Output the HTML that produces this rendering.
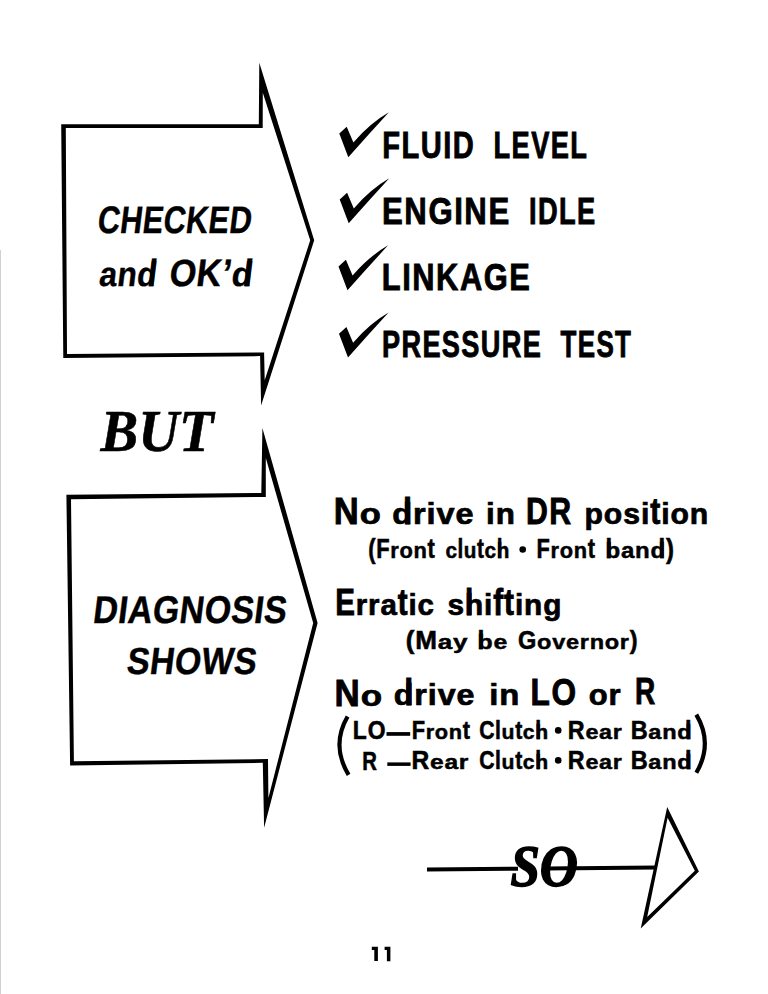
<!DOCTYPE html>
<html><head><meta charset="utf-8"><style>
html,body{margin:0;padding:0;background:#fff;width:768px;height:994px;overflow:hidden}
.t{position:absolute;left:0;top:0;line-height:1;white-space:pre;color:#000;transform-origin:0 0}
svg{position:absolute;left:0;top:0}
</style></head><body>
<svg width="768" height="994" viewBox="0 0 768 994">
<path fill="#000" fill-rule="evenodd" d="M61.2 124.2 L258.8 124.2 L259.3 62.8 L314.2 240.3 L261.1 405.5 L260.1 356.1 L63.3 357.9 Z M65.8 128.1 L262.7 128 L262.8 92.7 L310.2 240.3 L264.7 380.3 L264.1 352.5 L67 354 Z"/>
<path fill="#000" fill-rule="evenodd" d="M66.4 494.8 L261.3 492.9 L262.4 428 L317.6 623 L264.1 827.8 L262.8 762.8 L70.1 765.5 Z M71 499.2 L265.8 496.9 L265.8 458 L313.2 623 L268.4 797.9 L268 759 L73.9 761.3 Z"/>
<path fill="#000" fill-rule="evenodd" d="M667.2 807.1 L698.9 871.4 L640.7 928.4 Z M667.6 817.7 L694.8 870.7 L647.2 916.9 Z"/>
<path fill="#000" d="M427 867.50 L518 866.74 L518 870.74 L427 871.50 Z M548 866.50 L568 866.33 L568 870.33 L548 870.50 Z M575 866.27 L656 865.60 L656 869.60 L575 870.27 Z"/>
<g fill="none" stroke="#000" stroke-width="4.2" stroke-linecap="butt">
<path d="M347.6 716.5 Q330.8 745.5 348.6 774.8"/>
<path d="M696.3 714.6 Q713.4 743.5 696.3 772.8"/>
</g>
<rect x="0" y="250" width="1" height="744" fill="#d2d2d2"/>
<g fill="#000">
<circle cx="522.7" cy="549.5" r="3.3"/>
<circle cx="558.2" cy="730.4" r="3.3"/>
<circle cx="558.2" cy="760.4" r="3.3"/>
<rect x="386.5" y="732.1" width="23.7" height="3.7"/>
<rect x="387.3" y="762.4" width="23.3" height="3.5"/>
</g>
<path fill="#000" d="M371.8 946.8 L377.9 946.8 L377.9 961.1 L374.3 961.1 L374.3 949.9 L371.8 949.9 Z M384.6 946.8 L390.4 946.8 L390.4 961.3 L386.9 961.3 L386.9 949.9 L384.6 949.9 Z"/>
<path d="M339.3 133.4 L346.7 126.75 L353.4 142.4 Q370.45 122.85 388.9 112.3 Q369 134 348.3 157.2 Z"/>
<path transform="translate(0.4,66)" d="M339.3 133.4 L346.7 126.75 L353.4 142.4 Q370.45 122.85 388.9 112.3 Q369 134 348.3 157.2 Z"/>
<path transform="translate(-0.8,133)" d="M339.3 133.4 L346.7 126.75 L353.4 142.4 Q370.45 122.85 388.9 112.3 Q369 134 348.3 157.2 Z"/>
<path transform="translate(-0.3,200.3)" d="M339.3 133.4 L346.7 126.75 L353.4 142.4 Q370.45 122.85 388.9 112.3 Q369 134 348.3 157.2 Z"/>
</svg>

<div class="t" style="font:bold 100px 'Liberation Sans';line-height:1;letter-spacing:1px;-webkit-text-stroke:1.05px #000;transform:matrix(0.30747,0,-0.04698,0.38261,100.44,200.08)">CHECKED</div>
<div class="t" style="font:bold 100px 'Liberation Sans';line-height:1;letter-spacing:1px;-webkit-text-stroke:1.05px #000;transform:matrix(0.31788,0,-0.0468,0.38116,102.14,253.7)"><span style="display:inline-block;transform:scaleY(0.9);transform-origin:0 84.65px">an</span><span style="display:inline-block;position:relative"><span style="display:inline-block;transform:scaleY(0.9);transform-origin:0 84.65px">d</span><span style="position:absolute;left:33px;top:0">l</span></span></div>
<div class="t" style="font:bold 100px 'Liberation Sans';line-height:1;letter-spacing:1px;-webkit-text-stroke:1.05px #000;transform:matrix(0.34346,0,-0.0466,0.38116,172.27,253.7)">OK’<span style="display:inline-block;position:relative"><span style="display:inline-block;transform:scaleY(0.9);transform-origin:0 84.65px">d</span><span style="position:absolute;left:33px;top:0">l</span></span></div>
<div class="t" style="font:bold 100px 'Liberation Sans';line-height:1;letter-spacing:5px;-webkit-text-stroke:2.39px #000;transform:matrix(0.29148,0,0.0,0.3662,382.25,126.41)">FLUID</div>
<div class="t" style="font:bold 100px 'Liberation Sans';line-height:1;letter-spacing:5px;-webkit-text-stroke:2.39px #000;transform:matrix(0.27275,0,0.0,0.3662,493.56,126.51)">LEVEL</div>
<div class="t" style="font:bold 100px 'Liberation Sans';line-height:1;letter-spacing:5px;-webkit-text-stroke:2.33px #000;transform:matrix(0.31125,0,0.0,0.37606,382.03,191.86)">ENGINE</div>
<div class="t" style="font:bold 100px 'Liberation Sans';line-height:1;letter-spacing:5px;-webkit-text-stroke:2.33px #000;transform:matrix(0.27265,0,0.0,0.37606,528.96,191.86)">IDLE</div>
<div class="t" style="font:bold 100px 'Liberation Sans';line-height:1;letter-spacing:5px;-webkit-text-stroke:2.32px #000;transform:matrix(0.30849,0,0.0,0.37746,381.75,258.34)">LINKAGE</div>
<div class="t" style="font:bold 100px 'Liberation Sans';line-height:1;letter-spacing:5px;-webkit-text-stroke:2.38px #000;transform:matrix(0.27135,0,0.0,0.36761,381.97,325.29)">PRESSURE</div>
<div class="t" style="font:bold 100px 'Liberation Sans';line-height:1;letter-spacing:5px;-webkit-text-stroke:2.38px #000;transform:matrix(0.25978,0,0.0,0.36761,560.6,325.29)">TEST</div>
<div class="t" style="font:italic bold 100px 'Liberation Serif';line-height:1;-webkit-text-stroke:0.98px #000;transform:matrix(0.56488,0,0.0,0.6,100.56,401.6)">BUT</div>
<div class="t" style="font:bold 100px 'Liberation Sans';line-height:1;letter-spacing:1px;-webkit-text-stroke:1.03px #000;transform:matrix(0.33965,0,-0.04751,0.38696,96.14,589.71)">DIAGNOSIS</div>
<div class="t" style="font:bold 100px 'Liberation Sans';line-height:1;letter-spacing:1px;-webkit-text-stroke:1.06px #000;transform:matrix(0.33931,0,-0.04644,0.37826,129.68,642.25)">SHOWS</div>
<div class="t" style="font:bold 100px 'Liberation Sans';line-height:1;letter-spacing:3px;-webkit-text-stroke:2.38px #000;transform:matrix(0.34531,0,0.0,0.36761,333.83,492.89)">N<span style="display:inline-block;transform:scaleY(0.81);transform-origin:0 84.65px">o</span></div>
<div class="t" style="font:bold 100px 'Liberation Sans';line-height:1;letter-spacing:3px;-webkit-text-stroke:2.38px #000;transform:matrix(0.32439,0,0.0,0.36761,392.23,492.89)"><span style="display:inline-block;position:relative"><span style="display:inline-block;transform:scaleY(0.81);transform-origin:0 84.65px">d</span><span style="position:absolute;left:33px;top:0">l</span></span><span style="display:inline-block;transform:scaleY(0.81);transform-origin:0 84.65px">rive</span></div>
<div class="t" style="font:bold 100px 'Liberation Sans';line-height:1;letter-spacing:3px;-webkit-text-stroke:2.38px #000;transform:matrix(0.31358,0,0.0,0.36761,486.02,492.89)"><span style="display:inline-block;transform:scaleY(0.81);transform-origin:0 84.65px">in</span></div>
<div class="t" style="font:bold 100px 'Liberation Sans';line-height:1;letter-spacing:5px;-webkit-text-stroke:2.38px #000;transform:matrix(0.3028,0,0.0,0.36761,525.88,492.89)">DR</div>
<div class="t" style="font:bold 100px 'Liberation Sans';line-height:1;letter-spacing:3px;-webkit-text-stroke:2.38px #000;transform:matrix(0.302,0,0.0,0.36761,584.49,492.89)"><span style="display:inline-block;transform:scaleY(0.81);transform-origin:0 84.65px">posi</span>t<span style="display:inline-block;transform:scaleY(0.81);transform-origin:0 84.65px">ion</span></div>
<div class="t" style="font:bold 100px 'Liberation Sans';line-height:1;letter-spacing:3px;-webkit-text-stroke:2.16px #000;transform:matrix(0.21867,0,0.0,0.27042,368.33,535.44)">(F<span style="display:inline-block;transform:scaleY(0.81);transform-origin:0 84.65px">ron</span>t</div>
<div class="t" style="font:bold 100px 'Liberation Sans';line-height:1;letter-spacing:3px;-webkit-text-stroke:2.16px #000;transform:matrix(0.20664,0,0.0,0.27042,445.38,535.44)"><span style="display:inline-block;transform:scaleY(0.81);transform-origin:0 84.65px">c</span>l<span style="display:inline-block;transform:scaleY(0.81);transform-origin:0 84.65px">u</span>t<span style="display:inline-block;transform:scaleY(0.81);transform-origin:0 84.65px">c</span><span style="display:inline-block;position:relative"><span style="display:inline-block;transform:scaleY(0.81);transform-origin:0 84.65px">h</span><span style="position:absolute;left:0px;top:0">l</span></span></div>
<div class="t" style="font:bold 100px 'Liberation Sans';line-height:1;letter-spacing:3px;-webkit-text-stroke:2.16px #000;transform:matrix(0.21801,0,0.0,0.27042,536.59,535.44)">F<span style="display:inline-block;transform:scaleY(0.81);transform-origin:0 84.65px">ron</span>t</div>
<div class="t" style="font:bold 100px 'Liberation Sans';line-height:1;letter-spacing:3px;-webkit-text-stroke:2.16px #000;transform:matrix(0.24036,0,0.0,0.27042,605.6,535.44)"><span style="display:inline-block;position:relative"><span style="display:inline-block;transform:scaleY(0.81);transform-origin:0 84.65px">b</span><span style="position:absolute;left:0px;top:0">l</span></span><span style="display:inline-block;transform:scaleY(0.81);transform-origin:0 84.65px">an</span><span style="display:inline-block;position:relative"><span style="display:inline-block;transform:scaleY(0.81);transform-origin:0 84.65px">d</span><span style="position:absolute;left:33px;top:0">l</span></span>)</div>
<div class="t" style="font:bold 100px 'Liberation Sans';line-height:1;letter-spacing:3px;-webkit-text-stroke:2.34px #000;transform:matrix(0.2948,0,0.0,0.37324,335.13,583.6)">E<span style="display:inline-block;transform:scaleY(0.81);transform-origin:0 84.65px">rra</span>t<span style="display:inline-block;transform:scaleY(0.81);transform-origin:0 84.65px">ic</span></div>
<div class="t" style="font:bold 100px 'Liberation Sans';line-height:1;letter-spacing:3px;-webkit-text-stroke:2.34px #000;transform:matrix(0.29813,0,0.0,0.37324,447.5,583.6)"><span style="display:inline-block;transform:scaleY(0.81);transform-origin:0 84.65px">s</span><span style="display:inline-block;position:relative"><span style="display:inline-block;transform:scaleY(0.81);transform-origin:0 84.65px">h</span><span style="position:absolute;left:0px;top:0">l</span></span><span style="display:inline-block;transform:scaleY(0.81);transform-origin:0 84.65px">i</span>ft<span style="display:inline-block;transform:scaleY(0.81);transform-origin:0 84.65px">ing</span></div>
<div class="t" style="font:bold 100px 'Liberation Sans';line-height:1;letter-spacing:3px;-webkit-text-stroke:2.24px #000;transform:matrix(0.26026,0,0.0,0.26056,405.76,626.79)">(M<span style="display:inline-block;transform:scaleY(0.81);transform-origin:0 84.65px">ay</span></div>
<div class="t" style="font:bold 100px 'Liberation Sans';line-height:1;letter-spacing:3px;-webkit-text-stroke:2.24px #000;transform:matrix(0.24821,0,0.0,0.26056,477.56,626.79)"><span style="display:inline-block;position:relative"><span style="display:inline-block;transform:scaleY(0.81);transform-origin:0 84.65px">b</span><span style="position:absolute;left:0px;top:0">l</span></span><span style="display:inline-block;transform:scaleY(0.81);transform-origin:0 84.65px">e</span></div>
<div class="t" style="font:bold 100px 'Liberation Sans';line-height:1;letter-spacing:3px;-webkit-text-stroke:2.24px #000;transform:matrix(0.23533,0,0.0,0.26056,518.09,626.79)">G<span style="display:inline-block;transform:scaleY(0.81);transform-origin:0 84.65px">overnor</span>)</div>
<div class="t" style="font:bold 100px 'Liberation Sans';line-height:1;letter-spacing:3px;-webkit-text-stroke:2.39px #000;transform:matrix(0.34922,0,0.0,0.3662,334.6,674.41)">N<span style="display:inline-block;transform:scaleY(0.81);transform-origin:0 84.65px">o</span></div>
<div class="t" style="font:bold 100px 'Liberation Sans';line-height:1;letter-spacing:3px;-webkit-text-stroke:2.39px #000;transform:matrix(0.32236,0,0.0,0.3662,393.63,674.12)"><span style="display:inline-block;position:relative"><span style="display:inline-block;transform:scaleY(0.81);transform-origin:0 84.65px">d</span><span style="position:absolute;left:33px;top:0">l</span></span><span style="display:inline-block;transform:scaleY(0.81);transform-origin:0 84.65px">rive</span></div>
<div class="t" style="font:bold 100px 'Liberation Sans';line-height:1;letter-spacing:3px;-webkit-text-stroke:2.39px #000;transform:matrix(0.3284,0,0.0,0.3662,489.13,673.85)"><span style="display:inline-block;transform:scaleY(0.81);transform-origin:0 84.65px">in</span></div>
<div class="t" style="font:bold 100px 'Liberation Sans';line-height:1;letter-spacing:5px;-webkit-text-stroke:2.39px #000;transform:matrix(0.3163,0,0.0,0.3662,530.6,673.66)">LO</div>
<div class="t" style="font:bold 100px 'Liberation Sans';line-height:1;letter-spacing:3px;-webkit-text-stroke:2.39px #000;transform:matrix(0.31,0,0.0,0.3662,588.67,673.47)"><span style="display:inline-block;transform:scaleY(0.81);transform-origin:0 84.65px">or</span></div>
<div class="t" style="font:bold 100px 'Liberation Sans';line-height:1;letter-spacing:5px;-webkit-text-stroke:2.39px #000;transform:matrix(0.2803,0,0.0,0.3662,635.02,673.31)">R</div>
<div class="t" style="font:bold 100px 'Liberation Sans';line-height:1;letter-spacing:5px;-webkit-text-stroke:2.24px #000;transform:matrix(0.22889,0,0.0,0.26056,352.63,717.19)">LO</div>
<div class="t" style="font:bold 100px 'Liberation Sans';line-height:1;letter-spacing:3px;-webkit-text-stroke:2.24px #000;transform:matrix(0.21801,0,0.0,0.26056,411.69,717.04)">F<span style="display:inline-block;transform:scaleY(0.81);transform-origin:0 84.65px">ron</span>t</div>
<div class="t" style="font:bold 100px 'Liberation Sans';line-height:1;letter-spacing:3px;-webkit-text-stroke:2.24px #000;transform:matrix(0.21164,0,0.0,0.26056,479.17,716.89)">Cl<span style="display:inline-block;transform:scaleY(0.81);transform-origin:0 84.65px">u</span>t<span style="display:inline-block;transform:scaleY(0.81);transform-origin:0 84.65px">c</span><span style="display:inline-block;position:relative"><span style="display:inline-block;transform:scaleY(0.81);transform-origin:0 84.65px">h</span><span style="position:absolute;left:0px;top:0">l</span></span></div>
<div class="t" style="font:bold 100px 'Liberation Sans';line-height:1;letter-spacing:3px;-webkit-text-stroke:2.24px #000;transform:matrix(0.23378,0,0.0,0.26056,567.8,716.72)">R<span style="display:inline-block;transform:scaleY(0.81);transform-origin:0 84.65px">ear</span></div>
<div class="t" style="font:bold 100px 'Liberation Sans';line-height:1;letter-spacing:3px;-webkit-text-stroke:2.24px #000;transform:matrix(0.23508,0,0.0,0.26056,630.69,716.59)">B<span style="display:inline-block;transform:scaleY(0.81);transform-origin:0 84.65px">an</span><span style="display:inline-block;position:relative"><span style="display:inline-block;transform:scaleY(0.81);transform-origin:0 84.65px">d</span><span style="position:absolute;left:33px;top:0">l</span></span></div>
<div class="t" style="font:bold 100px 'Liberation Sans';line-height:1;letter-spacing:5px;-webkit-text-stroke:2.24px #000;transform:matrix(0.20303,0,0.0,0.26056,362.28,747.39)">R</div>
<div class="t" style="font:bold 100px 'Liberation Sans';line-height:1;letter-spacing:3px;-webkit-text-stroke:2.24px #000;transform:matrix(0.24578,0,0.0,0.26056,411.53,747.24)">R<span style="display:inline-block;transform:scaleY(0.81);transform-origin:0 84.65px">ear</span></div>
<div class="t" style="font:bold 100px 'Liberation Sans';line-height:1;letter-spacing:3px;-webkit-text-stroke:2.24px #000;transform:matrix(0.21164,0,0.0,0.26056,479.17,747.09)">Cl<span style="display:inline-block;transform:scaleY(0.81);transform-origin:0 84.65px">u</span>t<span style="display:inline-block;transform:scaleY(0.81);transform-origin:0 84.65px">c</span><span style="display:inline-block;position:relative"><span style="display:inline-block;transform:scaleY(0.81);transform-origin:0 84.65px">h</span><span style="position:absolute;left:0px;top:0">l</span></span></div>
<div class="t" style="font:bold 100px 'Liberation Sans';line-height:1;letter-spacing:3px;-webkit-text-stroke:2.24px #000;transform:matrix(0.23378,0,0.0,0.26056,567.8,746.92)">R<span style="display:inline-block;transform:scaleY(0.81);transform-origin:0 84.65px">ear</span></div>
<div class="t" style="font:bold 100px 'Liberation Sans';line-height:1;letter-spacing:3px;-webkit-text-stroke:2.24px #000;transform:matrix(0.23508,0,0.0,0.26056,630.69,746.79)">B<span style="display:inline-block;transform:scaleY(0.81);transform-origin:0 84.65px">an</span><span style="display:inline-block;position:relative"><span style="display:inline-block;transform:scaleY(0.81);transform-origin:0 84.65px">d</span><span style="position:absolute;left:33px;top:0">l</span></span></div>
<div class="t" style="font:italic bold 100px 'Liberation Serif';line-height:1;-webkit-text-stroke:2.62px #000;transform:matrix(0.52857,0,0.0,0.58382,510.4,837.68)">SO</div>
</body></html>
